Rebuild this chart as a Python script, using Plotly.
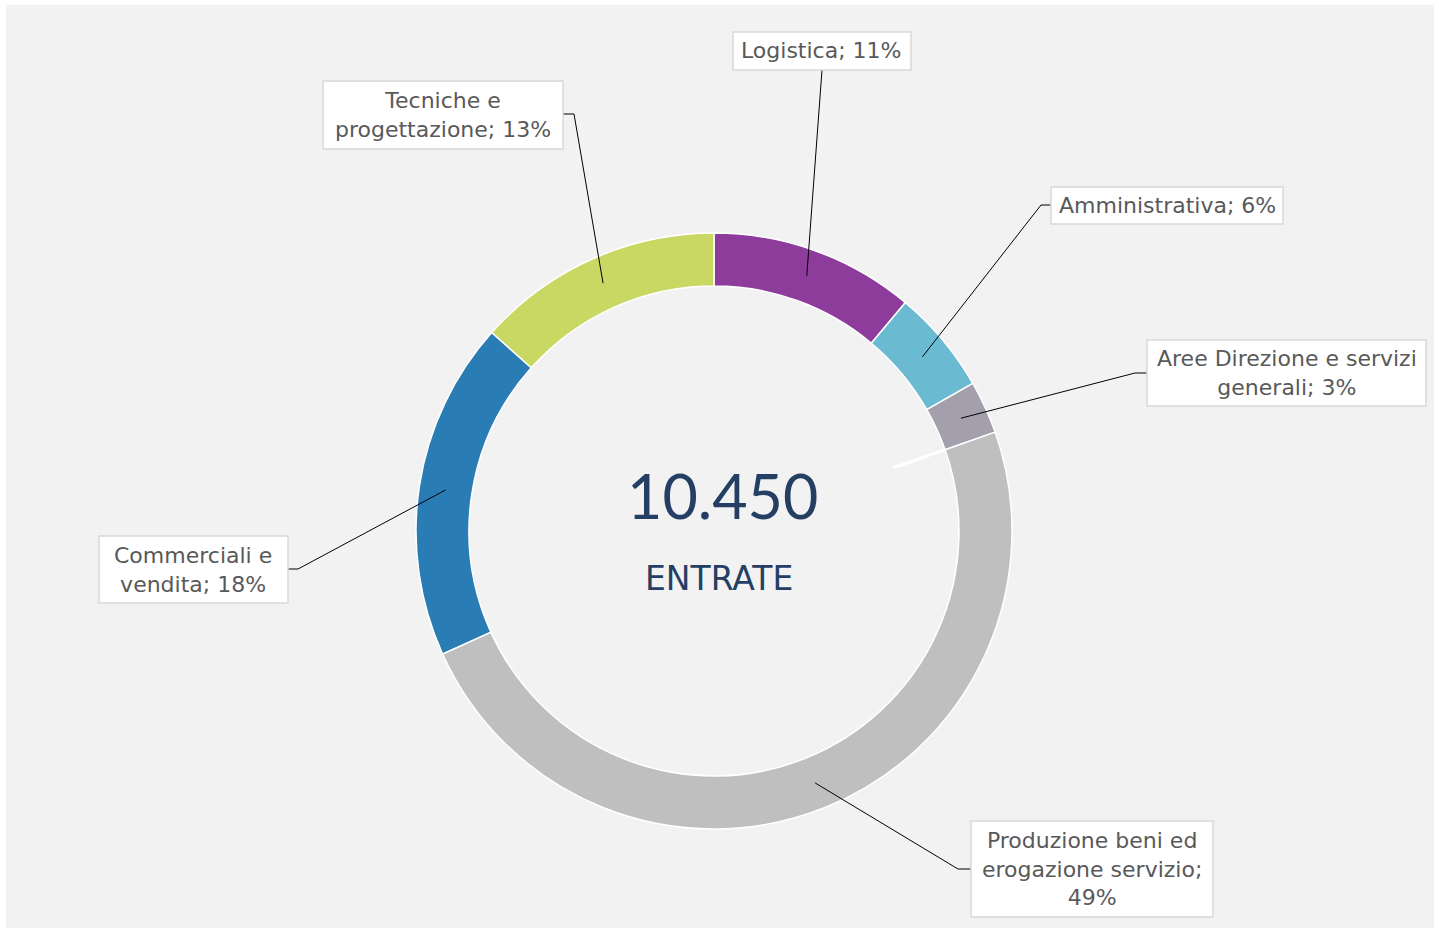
import math
import plotly.graph_objects as go

W, H = 1439, 928

# ---- data ----
categories = [
    "Logistica",
    "Amministrativa",
    "Aree Direzione e servizi generali",
    "Produzione beni ed erogazione servizio",
    "Commerciali e vendita",
    "Tecniche e progettazione",
]
values = [1160, 590, 300, 5080, 1920, 1400]
label_lines = [
    "Logistica;",
    "Amministrativa;",
    "Aree Direzione e servizi<br>generali;",
    "Produzione beni ed<br>erogazione servizio;",
    "Commerciali e<br>vendita;",
    "Tecniche e<br>progettazione;",
]
pct_sep = [" ", " ", " ", "<br>", " ", " "]
center_title = "ENTRATE"

# ---- styles ----
colors = ["#8d3c9c", "#6abbd2", "#a39fac", "#bfbfbf", "#2a7cb5", "#c8d862"]
FONT = "DejaVu Sans"
TXT = "#595959"
NAVY = "#243f63"

# pie geometry (pixels)
CX, CY, R_OUT, R_IN = 714, 531, 298, 245
dom_x = [(CX - R_OUT) / W, (CX + R_OUT) / W]
dom_y = [1 - (CY + R_OUT) / H, 1 - (CY - R_OUT) / H]

# label boxes in pixels: (x0, y0, x1, y1), attach point on box, elbow point
boxes = [
    dict(box=(733, 32, 911, 70), attach=(822, 70), elbow=None),
    dict(box=(1051, 187, 1283, 224), attach=(1051, 205), elbow=(1041, 205)),
    dict(box=(1147, 340, 1426, 406), attach=(1147, 373), elbow=(1135, 373)),
    dict(box=(971, 821, 1213, 917), attach=(971, 869), elbow=(958, 869)),
    dict(box=(99, 536, 288, 603), attach=(288, 569), elbow=(298, 569)),
    dict(box=(323, 81, 563, 149), attach=(563, 114), elbow=(574, 114)),
]


def fx(px):
    return px / W


def fy(py):
    return 1 - py / H


total = sum(values)

fig = go.Figure()
fig.add_trace(go.Pie(
    labels=categories,
    values=values,
    sort=False,
    direction="clockwise",
    rotation=0,
    hole=R_IN / R_OUT,
    domain=dict(x=dom_x, y=dom_y),
    marker=dict(colors=colors, line=dict(color="white", width=1.5)),
    textinfo="none",
    hoverinfo="label+value+percent",
    showlegend=False,
))

shapes = []
# chart area background
shapes.append(dict(type="rect", xref="paper", yref="paper", x0=fx(6), x1=fx(1434),
                   y0=fy(5), y1=fy(928), fillcolor="#f2f2f2", line=dict(width=0),
                   layer="below"))

annotations = []
cum = 0
r_mid = (R_IN + R_OUT) / 2
for i, v in enumerate(values):
    mid = (cum + v / 2) / total
    cum += v
    th = 2 * math.pi * mid
    ax_ = CX + r_mid * math.sin(th)
    ay_ = CY - r_mid * math.cos(th)
    b = boxes[i]
    pts = [b["attach"]]
    if b["elbow"]:
        pts.append(b["elbow"])
    pts.append((ax_, ay_))
    path = "M " + " L ".join(f"{fx(p[0])},{fy(p[1])}" for p in pts)
    shapes.append(dict(type="path", xref="paper", yref="paper", path=path,
                       line=dict(color="black", width=1), layer="above"))
    x0, y0, x1, y1 = b["box"]
    shapes.append(dict(type="rect", xref="paper", yref="paper", x0=fx(x0), x1=fx(x1),
                       y0=fy(y1), y1=fy(y0), fillcolor="white",
                       line=dict(color="#d9d9d9", width=1.5), layer="above"))
    pct = round(100 * v / total)
    annotations.append(dict(
        x=fx((x0 + x1) / 2), y=fy((y0 + y1) / 2), xref="paper", yref="paper",
        xanchor="center", yanchor="middle", showarrow=False, align="center",
        text=f"{label_lines[i]}{pct_sep[i]}{pct}%",
        font=dict(family=FONT, size=22, color=TXT),
    ))

# white separator stroke extending into the hole at the Aree/Produzione boundary
b_frac = sum(values[:3]) / total
tb = 2 * math.pi * b_frac
shapes.append(dict(type="line", xref="paper", yref="paper",
                   x0=fx(CX + 190 * math.sin(tb)), y0=fy(CY - 190 * math.cos(tb)),
                   x1=fx(CX + R_IN * math.sin(tb)), y1=fy(CY - R_IN * math.cos(tb)),
                   line=dict(color="white", width=3), layer="above"))

# center texts
annotations.append(dict(x=fx(722), y=fy(496), xref="paper", yref="paper",
                        xanchor="center", yanchor="middle", showarrow=False,
                        text=f"{total:,}".replace(",", "."),
                        font=dict(family="Lato", size=61, color=NAVY)))
annotations.append(dict(x=fx(719), y=fy(578), xref="paper", yref="paper",
                        xanchor="center", yanchor="middle", showarrow=False,
                        text=center_title,
                        font=dict(family=FONT, size=33, color=NAVY)))

fig.update_layout(
    width=W, height=H,
    margin=dict(l=0, r=0, t=0, b=0),
    paper_bgcolor="white",
    plot_bgcolor="white",
    shapes=shapes,
    annotations=annotations,
    showlegend=False,
)

fig.write_html("out.html", config={"displayModeBar": False})
